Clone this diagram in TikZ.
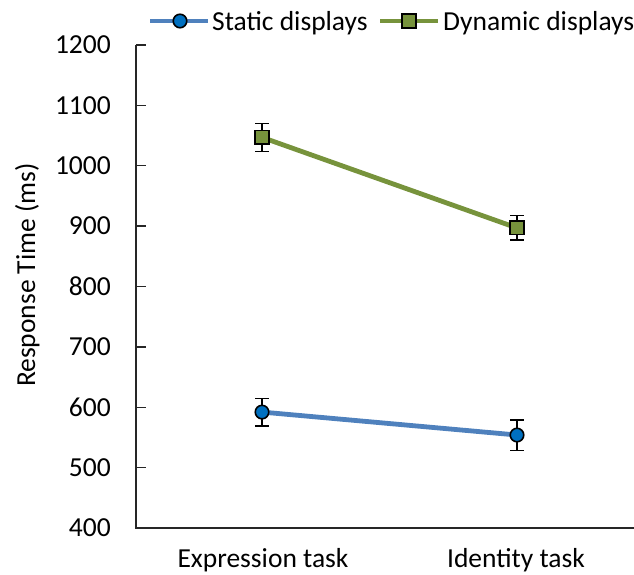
\documentclass[tikz,border=0pt]{standalone}
\usepackage{fontspec}
\setmainfont{Carlito}
\usetikzlibrary{positioning}

\definecolor{staticline}{HTML}{4F81BD}
\definecolor{staticfill}{HTML}{0070C0}
\definecolor{dynamicline}{HTML}{77933C}

% response time (ms) -> vertical position
\newcommand{\msy}[1]{(47+((#1)-400)*0.60375)}

\begin{document}
\begin{tikzpicture}[x=1pt,y=1pt,font=\fontsize{27.5}{32}\selectfont,
  axisline/.style={line width=1.3pt,black!85},
  seriesline/.style={line width=4.8pt},
  errbar/.style={line width=1.2pt,black},
  statmark/.style={circle,draw=black,line width=1.6pt,fill=staticfill,minimum size=13.5pt,inner sep=0pt},
  dynmark/.style={rectangle,draw=black,line width=1.6pt,fill=dynamicline,minimum size=13.5pt,inner sep=0pt}]
  \useasboundingbox (0,0) rectangle (634,575);

  % axes and ticks
  \draw[axisline] (136,{\msy{1200}}) -- (136,47) -- (634,47);
  \foreach \v in {400,500,...,1200} {
    \draw[axisline] (136,{\msy{\v}}) -- (146,{\msy{\v}});
    \node[anchor=east,inner sep=0pt] (tick\v) at (111,{\msy{\v}}) {\v};
  }
  \node[rotate=90,anchor=base,inner sep=0pt] (ylabel) at (35,300) {Response Time (ms)};
  \node[anchor=base,inner sep=0pt] (exptask) at (263,7) {Expression task};
  \node[anchor=base,inner sep=0pt] (idtask) at (516,7) {Identity task};

  % condition means
  \coordinate (se) at (262,{\msy{592}});
  \coordinate (si) at (517,{\msy{554}});
  \coordinate (de) at (262,{\msy{1047}});
  \coordinate (di) at (517,{\msy{897}});
  \draw[seriesline,staticline] (se) -- (si);
  \draw[seriesline,dynamicline] (de) -- (di);

  % standard errors
  \foreach \x/\m/\e in {262/592/23,517/554/25,262/1047/23,517/897/20} {
    \draw[errbar] (\x,{\msy{\m-\e}}) -- (\x,{\msy{\m+\e}});
    \draw[errbar] (\x-7,{\msy{\m-\e}}) -- (\x+7,{\msy{\m-\e}});
    \draw[errbar] (\x-7,{\msy{\m+\e}}) -- (\x+7,{\msy{\m+\e}});
  }
  \node[statmark] (semark) at (se) {};
  \node[statmark] (simark) at (si) {};
  \node[dynmark] (demark) at (de) {};
  \node[dynmark] (dimark) at (di) {};

  % legend
  \coordinate (legsa) at (150,554);
  \coordinate (legsb) at (208,554);
  \draw[seriesline,staticline] (legsa) -- (legsb);
  \node[statmark] (legsmark) at (180,554) {};
  \node[anchor=base west,inner sep=0pt] (legstext) at (212,544) {Static displays};
  \coordinate (legda) at (380,554);
  \coordinate (legdb) at (438,554);
  \draw[seriesline,dynamicline] (legda) -- (legdb);
  \node[dynmark] (legdmark) at (409,554) {};
  \node[anchor=base west,inner sep=0pt] (legdtext) at (443,544) {Dynamic displays};
\end{tikzpicture}
\end{document}
